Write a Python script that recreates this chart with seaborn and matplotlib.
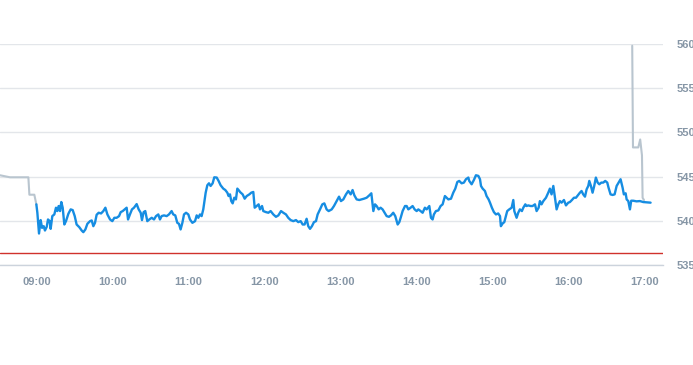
import numpy as np
import pandas as pd
import seaborn as sns
import matplotlib.pyplot as plt

# minutes after 09:00 / price
pre_min = [-28.7, -20.8, -6.3, -5.5, -1.6, 0.0]
pre_px = [545.15, 544.92, 544.92, 542.95, 542.95, 541.86]

day_min = [0.0, 0.8, 2.1, 3.4, 4.5, 5.8, 6.8, 8.2, 9.2, 10.5, 11.3, 12.6, 14.2, 15.5, 16.6, 17.6,
           18.7, 19.7, 20.8, 22.1, 23.4, 25.3, 27.1, 28.7, 30.3, 31.8, 33.9, 35.8, 37.1, 38.7, 40.3,
           42.4, 43.7, 45.0, 46.3, 47.6, 49.2, 51.1, 52.9, 54.5, 56.1, 58.2, 60.0, 61.6, 63.4, 65.3,
           66.6, 68.2, 69.7, 71.3, 72.4, 73.9, 75.5, 77.1, 79.2, 80.8, 82.4, 83.4, 84.7, 86.0, 87.6,
           89.2, 91.1, 92.9, 94.5, 96.3, 97.6, 98.9, 100.8, 102.9, 104.7, 106.8, 108.1, 109.7, 111.3,
           112.6, 113.9, 115.3, 116.6, 118.2, 120.0, 121.3, 123.2, 125.3, 126.6, 127.9, 129.2, 130.5,
           131.8, 133.7, 135.0, 136.3, 137.6, 139.2, 140.5, 142.4, 143.9, 145.5, 147.6, 149.2, 150.8,
           151.8, 152.9, 153.9, 155.0, 156.3, 157.6, 158.7, 160.3, 160.8, 162.9, 164.5, 166.1, 168.2,
           169.7, 171.3, 172.4, 173.9, 175.5, 176.6, 178.2, 179.2, 181.3, 183.2, 185.0, 187.1, 189.2,
           191.1, 193.2, 195.0, 197.1, 198.9, 200.8, 202.9, 205.0, 206.8, 208.7, 210.3, 211.8, 213.4,
           214.7, 216.1, 217.6, 219.2, 220.8, 222.1, 224.0, 225.8, 227.4, 229.2, 230.8, 233.2, 235.0,
           237.1, 239.0, 240.5, 242.4, 244.5, 246.3, 248.2, 249.7, 251.1, 252.9, 255.0, 256.8, 258.7,
           260.8, 262.9, 264.5, 266.1, 267.4, 268.7, 270.3, 271.8, 273.4, 274.7, 276.6, 278.4, 280.0,
           281.8, 283.4, 285.3, 286.6, 287.9, 289.2, 291.1, 292.4, 293.7, 295.5, 297.1, 298.7, 300.3,
           301.6, 303.4, 305.0, 306.8, 308.2, 310.3, 311.6, 312.9, 313.9, 315.5, 317.4, 319.2, 320.8,
           322.6, 324.0, 325.3, 327.4, 329.2, 330.8, 332.4, 333.9, 335.8, 337.6, 339.2, 341.1, 341.8,
           343.7, 345.5, 347.1, 349.0, 350.3, 351.1, 352.4, 354.2, 355.5, 357.1, 358.2, 359.7, 361.3,
           362.9, 364.7, 366.1, 366.8, 368.2, 369.5, 370.8, 371.8, 373.4, 375.3, 376.6, 377.4, 379.2,
           380.5, 381.8, 383.4, 384.5, 386.1, 387.1, 388.4, 390.3, 391.8, 393.7, 395.0, 396.6, 397.6,
           398.9, 400.3, 402.4, 404.2, 405.5, 406.8, 408.2, 409.5, 410.8, 412.1, 413.4, 414.7, 416.6,
           418.2, 420.0, 421.3, 422.9, 424.5, 426.1, 427.6, 429.2, 430.5, 431.8, 433.2, 434.5, 435.8,
           436.6, 437.9, 439.2, 440.5, 441.8, 443.2, 444.5, 446.1, 447.6, 449.2, 450.8, 451.8, 453.4,
           455.0, 456.6, 458.2, 459.7, 461.3, 462.9, 463.9, 465.3, 466.1, 467.4, 468.7, 469.7, 471.3,
           473.9, 476.6, 479.2, 481.8, 485.0]
day_px = [541.86, 540.91, 538.56, 540.08, 539.20, 539.39, 538.90, 539.32, 540.15, 539.96, 539.09,
          540.53, 540.72, 541.48, 541.10, 541.67, 541.10, 542.12, 541.48, 539.58, 539.96, 540.80,
          541.29, 541.21, 540.53, 539.58, 539.28, 538.90, 538.71, 539.02, 539.66, 539.96, 540.04,
          539.39, 539.77, 540.68, 540.91, 540.83, 541.10, 541.48, 540.72, 540.15, 539.96, 540.34,
          540.34, 540.53, 540.98, 541.10, 541.29, 541.48, 540.15, 540.72, 541.29, 541.48, 541.89,
          541.29, 540.91, 540.08, 540.98, 541.10, 539.96, 540.15, 540.34, 540.15, 540.53, 540.72,
          540.15, 540.53, 540.61, 540.53, 540.72, 541.10, 540.72, 540.61, 539.77, 539.66, 539.02,
          539.77, 540.72, 540.91, 540.72, 540.15, 539.77, 539.96, 540.61, 540.34, 540.72, 540.53,
          541.29, 543.18, 544.02, 544.24, 543.94, 544.24, 544.92, 544.89, 544.51, 544.02, 543.64,
          543.48, 543.18, 542.80, 542.99, 542.23, 541.97, 542.61, 542.42, 543.64, 543.37, 543.26,
          542.99, 542.50, 542.80, 542.99, 543.18, 543.26, 541.48, 541.67, 541.86, 541.29, 541.67,
          541.10, 540.98, 540.91, 541.10, 540.72, 540.45, 540.61, 541.10, 540.91, 540.72, 540.34,
          540.08, 539.96, 540.08, 539.85, 539.96, 539.58, 539.58, 540.23, 539.39, 539.09, 539.39,
          539.85, 539.96, 540.72, 541.29, 541.86, 541.97, 541.29, 541.10, 541.29, 541.67, 542.23,
          542.73, 542.23, 542.42, 542.99, 543.37, 542.99, 543.48, 542.88, 542.42, 542.35, 542.42,
          542.50, 542.61, 542.88, 543.11, 541.10, 541.86, 541.67, 541.29, 541.48, 541.29, 540.98,
          540.53, 540.45, 540.61, 540.91, 540.53, 539.58, 539.85, 540.45, 541.10, 541.67, 541.67,
          541.29, 541.48, 541.67, 541.29, 541.10, 541.29, 541.10, 540.91, 541.48, 541.29, 541.67,
          540.34, 540.15, 540.72, 541.10, 541.17, 541.67, 541.86, 542.80, 542.61, 542.42, 542.50,
          543.18, 543.64, 544.39, 544.51, 544.24, 544.32, 544.70, 544.89, 544.51, 544.13, 544.62,
          545.15, 545.08, 544.70, 543.94, 543.64, 543.37, 542.80, 542.42, 542.05, 541.48, 540.98,
          540.72, 540.83, 540.53, 539.39, 539.70, 539.85, 540.53, 541.10, 541.29, 541.48, 542.35,
          541.10, 540.34, 540.91, 541.29, 541.10, 541.48, 541.86, 541.67, 541.74, 541.67, 541.67,
          541.86, 541.10, 541.48, 542.23, 541.86, 542.23, 542.61, 543.18, 543.64, 542.99, 543.94,
          542.61, 541.29, 541.86, 542.23, 542.05, 542.35, 541.74, 542.05, 542.12, 542.35, 542.61,
          542.61, 542.88, 543.18, 543.37, 542.99, 542.73, 543.56, 543.94, 544.51, 543.94, 543.18,
          543.94, 544.89, 544.32, 544.13, 544.32, 544.32, 544.51, 544.32, 543.75, 542.99, 542.92,
          542.99, 543.94, 544.32, 544.70, 543.75, 542.99, 543.11, 542.42, 542.23, 541.29, 542.27,
          542.27, 542.20, 542.23, 542.12, 542.09, 542.05]

post_min = [470.5, 471.1, 475.3, 476.8, 478.2, 478.7, 479.8]
post_px = [559.8, 548.3, 548.3, 549.2, 547.4, 542.6, 542.35]

prev_close = 536.35

tick_min = [0, 60, 120, 180, 240, 300, 360, 420, 480]
tick_lab = ["09:00", "10:00", "11:00", "12:00", "13:00", "14:00", "15:00", "16:00", "17:00"]
ytick_vals = [535, 540, 545, 550, 555, 560]

pre = pd.DataFrame({"t": pre_min, "p": pre_px})
day = pd.DataFrame({"t": day_min, "p": day_px})
post = pd.DataFrame({"t": post_min, "p": post_px})

sns.set_style("white")
plt.rcParams['font.family'] = ['Liberation Sans', 'DejaVu Sans']

fig = plt.figure(figsize=(6.93, 3.65), dpi=100)
ax = fig.add_axes([0, 0.274, 0.9567, 0.6055])

grey = "#b9c5cf"
sns.lineplot(data=pre, x="t", y="p", ax=ax, color=grey, lw=1.5, estimator=None, sort=False)
sns.lineplot(data=post, x="t", y="p", ax=ax, color=grey, lw=1.5, estimator=None, sort=False)
sns.lineplot(data=day, x="t", y="p", ax=ax, color="#168de2", lw=1.7, estimator=None, sort=False)
ax.axhline(prev_close, color="#d0322c", lw=1.0, zorder=1)

ax.set_xlim(-28.7, 494.8)
ax.set_ylim(535, 560)
ax.set_xticks(tick_min)
ax.set_xticklabels(tick_lab)
ax.set_yticks(ytick_vals)
ax.yaxis.tick_right()
ax.set_xlabel("")
ax.set_ylabel("")
ax.yaxis.grid(True, color="#e3e6ea", lw=1)
ax.set_axisbelow(True)
for s in ["top", "left", "right"]:
    ax.spines[s].set_visible(False)
ax.spines["bottom"].set_color("#ccd3dc")
ax.spines["bottom"].set_linewidth(1)
ax.tick_params(axis="x", length=4, width=1, color="#ccd3dc", pad=5,
               labelsize=8, labelcolor="#8696a6")
ax.tick_params(axis="y", length=0, pad=10, labelsize=8, labelcolor="#8696a6")
for lab in ax.get_xticklabels() + ax.get_yticklabels():
    lab.set_fontweight("bold")

fig.savefig("out.png", dpi=100)
